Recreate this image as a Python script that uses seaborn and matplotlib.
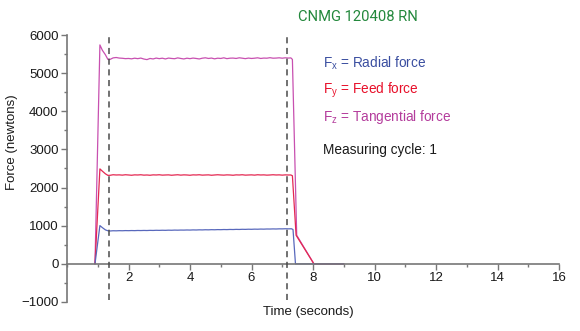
import numpy as np
import pandas as pd
import matplotlib
matplotlib.use("Agg")
import matplotlib.pyplot as plt
import seaborn as sns
from matplotlib import font_manager
from matplotlib.ticker import MultipleLocator

# ---------------- data ----------------
t_steady = [1.4, 1.5, 1.6, 1.7, 1.8, 1.9, 2.0, 2.1, 2.2, 2.3, 2.4, 2.5, 2.6, 2.7, 2.8, 2.9,
            3.0, 3.1, 3.2, 3.3, 3.4, 3.5, 3.6, 3.7, 3.8, 3.9, 4.0, 4.1, 4.2, 4.3, 4.4, 4.5,
            4.6, 4.7, 4.8, 4.9, 5.0, 5.1, 5.2, 5.3, 5.4, 5.5, 5.6, 5.7, 5.8, 5.9, 6.0, 6.1,
            6.2, 6.3, 6.4, 6.5, 6.6, 6.7, 6.8, 6.9, 7.0, 7.1, 7.2]

fz_steady = [5360, 5400, 5410, 5395, 5390, 5380, 5385, 5375, 5392, 5380, 5395, 5370, 5355, 5385,
             5372, 5395, 5380, 5392, 5372, 5395, 5385, 5378, 5400, 5385, 5372, 5392, 5380, 5395,
             5385, 5372, 5392, 5402, 5385, 5395, 5375, 5392, 5385, 5402, 5380, 5392, 5395, 5385,
             5402, 5392, 5380, 5395, 5385, 5392, 5402, 5385, 5395, 5392, 5405, 5392, 5395, 5402,
             5392, 5402, 5395]
fy_steady = [2322, 2336, 2330, 2333, 2326, 2336, 2330, 2323, 2333, 2330, 2336, 2326, 2330, 2323,
             2333, 2330, 2336, 2326, 2330, 2333, 2323, 2330, 2336, 2326, 2333, 2330, 2323, 2333,
             2330, 2336, 2326, 2330, 2333, 2323, 2330, 2336, 2330, 2326, 2333, 2330, 2323, 2333,
             2330, 2336, 2326, 2330, 2333, 2326, 2336, 2330, 2333, 2326, 2330, 2336, 2330, 2333,
             2326, 2333, 2330]
fx_steady = [862, 868, 866, 870, 868, 872, 870, 873, 871, 875, 873, 876, 874, 878, 876, 880,
             878, 881, 879, 883, 881, 885, 883, 886, 885, 888, 886, 890, 888, 892, 890, 894,
             892, 896, 894, 898, 896, 900, 898, 902, 900, 904, 902, 906, 904, 908, 906, 910,
             908, 912, 910, 914, 913, 916, 914, 918, 917, 920, 918]

fz_t = [0.91, 1.07, 1.15, 1.25, 1.33] + t_steady + [7.28, 7.33, 7.47, 8.03, 9.0]
fz_v = [0, 5740, 5600, 5480, 5360] + fz_steady + [5400, 5360, 750, 0, 0]

fy_t = [0.91, 1.07, 1.15, 1.25, 1.33] + t_steady + [7.28, 7.33, 7.45, 8.03, 9.0]
fy_v = [0, 2490, 2430, 2360, 2320] + fy_steady + [2330, 2310, 750, 0, 0]

fx_t = [0.91, 1.07, 1.15, 1.25, 1.33] + t_steady + [7.3, 7.35, 7.43, 9.0]
fx_v = [0, 1003, 950, 890, 868] + fx_steady + [920, 900, 0, 0]

series_names = ["Fz", "Fy", "Fx"]
line_colors = {"Fz": "#c850b0", "Fy": "#e42852", "Fx": "#5868bc"}

cycle_marks = [1.37, 7.15]

x_ticks = [2, 4, 6, 8, 10, 12, 14, 16]
y_ticks = [-1000, 0, 1000, 2000, 3000, 4000, 5000, 6000]

title_text = "CNMG 120408 RN"
legend_lines = [r"F$_\mathregular{x}$ = Radial force",
                r"F$_\mathregular{y}$ = Feed force",
                r"F$_\mathregular{z}$ = Tangential force",
                "Measuring cycle: 1"]
legend_colors = ["#3a4ea0", "#e8102a", "#b43c9c", "#1a1a1a"]

# ---------------- figure ----------------
sns.set_style("white")


def has_font(name):
    try:
        font_manager.findfont(font_manager.FontProperties(family=name), fallback_to_default=False)
        return True
    except Exception:
        return False


base_font = "Liberation Sans" if has_font("Liberation Sans") else "DejaVu Sans"
title_font = "Roboto" if has_font("Roboto") else base_font
plt.rcParams["font.family"] = [base_font, "DejaVu Sans"]
plt.rcParams["mathtext.fontset"] = "custom"
plt.rcParams["mathtext.rm"] = base_font

df = pd.concat([
    pd.DataFrame({"t": fz_t, "v": fz_v, "s": "Fz"}),
    pd.DataFrame({"t": fy_t, "v": fy_v, "s": "Fy"}),
    pd.DataFrame({"t": fx_t, "v": fx_v, "s": "Fx"}),
], ignore_index=True)

fig = plt.figure(figsize=(5.8, 3.31), dpi=100)
ax = fig.add_axes([67 / 580, 1 - 302 / 331, (559 - 67) / 580, (302 - 35) / 331])

sns.lineplot(data=df, x="t", y="v", hue="s", hue_order=series_names, palette=line_colors,
             estimator=None, sort=False, legend=False, linewidth=0.9, ax=ax)

for xm in cycle_marks:
    ax.plot([xm, xm], [-950, 6000], color="#4a4a4a", lw=1.1, dashes=(4, 3), zorder=5)

ax.set_xlim(0, 16)
ax.set_ylim(-1000, 6000)
ax.set_xticks(x_ticks)
ax.set_yticks(y_ticks)
ax.xaxis.set_minor_locator(MultipleLocator(1))
ax.yaxis.set_minor_locator(MultipleLocator(500))

for side in ["top", "right"]:
    ax.spines[side].set_visible(False)
ax.spines["bottom"].set_position(("data", 0))
ax.spines["left"].set_bounds(-1000, 6000)
for side in ["bottom", "left"]:
    ax.spines[side].set_color("#777777")
    ax.spines[side].set_linewidth(1.2)

ax.tick_params(axis="both", which="major", direction="out", length=4, width=1,
               color="#777777", labelsize=9.5, labelcolor="#1a1a1a", pad=2)
ax.tick_params(axis="both", which="minor", direction="out", length=2.5, width=1,
               color="#777777")
ax.tick_params(axis="x", which="both", bottom=True, top=False)
ax.tick_params(axis="y", which="both", left=True, right=False)
for lab in ax.get_xticklabels() + ax.get_yticklabels():
    lab.set_family([base_font, "DejaVu Sans"])

ax.set_xlabel("")
ax.set_ylabel("")
fig.text(12 / 580, 1 - 142 / 331, "Force (newtons)", rotation=90, ha="center", va="center",
         fontsize=9.5, color="#1a1a1a", family=[base_font, "DejaVu Sans"])
fig.text(308 / 580, 1 - 312 / 331, "Time (seconds)", ha="center", va="center",
         fontsize=9.5, color="#1a1a1a", family=[base_font, "DejaVu Sans"])

fig.text(298 / 580, 1 - 17 / 331, title_text, ha="left", va="center",
         fontsize=10.6, color="#23883c", family=[title_font, "DejaVu Sans"])

legend_y = [63, 90, 117, 150]
for txt, col, yy in zip(legend_lines, legend_colors, legend_y):
    fig.text(323 / 580, 1 - yy / 331, txt, ha="left", va="center", fontsize=9.8, color=col,
             family=[base_font, "DejaVu Sans"])

fig.savefig("out.png", dpi=100)
